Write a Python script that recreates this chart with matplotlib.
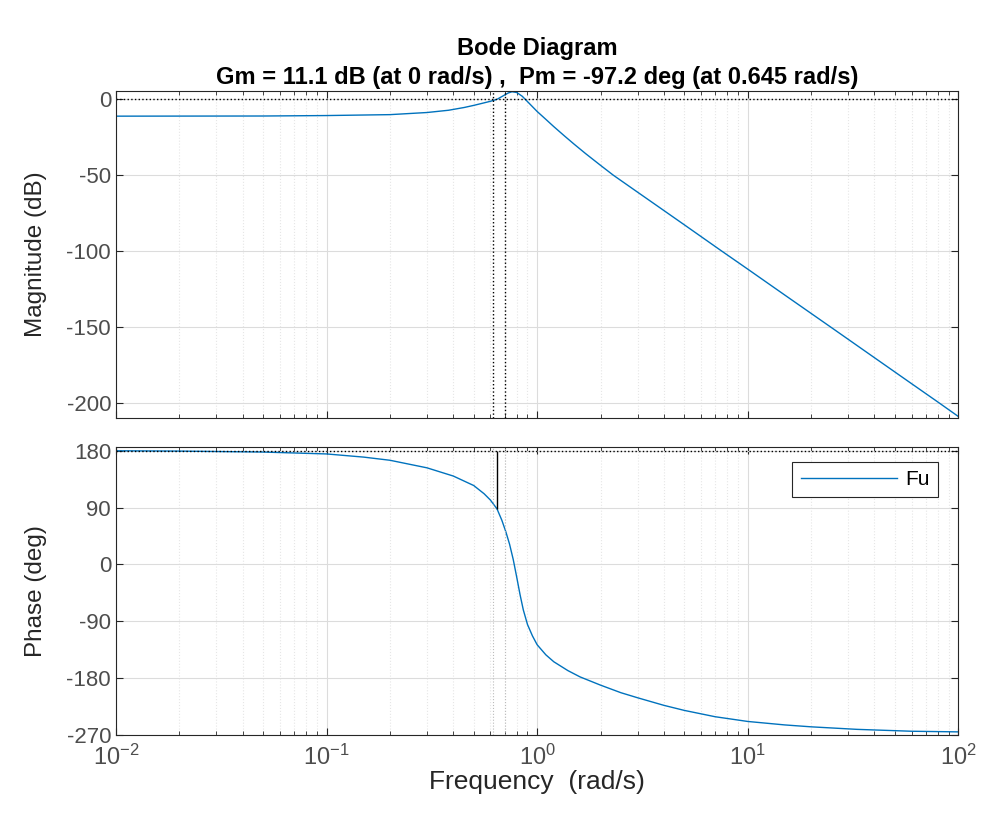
import matplotlib

matplotlib.use("Agg")

import matplotlib.pyplot as plt
from matplotlib.ticker import LogLocator, NullFormatter

plt.rcParams["font.family"] = ["Liberation Sans", "DejaVu Sans"]
plt.rcParams["mathtext.default"] = "regular"
plt.rcParams["axes.unicode_minus"] = False

# magnitude curve (rad/s, dB)
MAG_FREQ = [0.01, 0.05, 0.1, 0.2, 0.3, 0.38, 0.45, 0.5, 0.55, 0.6, 0.645,
            0.7, 0.73, 0.76, 0.8, 0.85, 0.9, 1.0, 1.1, 1.2, 1.35, 1.5, 1.7,
            2.0, 2.3, 3.0, 4.0, 5.0, 7.4, 10, 15, 25.5, 40, 60, 80, 100]
MAG_DB = [-11.1, -11.0, -10.7, -10.1, -8.7, -7.2, -5.4, -4.0, -2.6, -1.3, 0.0,
          2.8, 4.2, 5.0, 4.5, 2.0, -1.5, -8.0, -13.2, -18.0, -24.2, -29.6,
          -35.8, -43.5, -50.0, -61.2, -73.3, -82.7, -99.3, -111.9, -129.0,
          -151.3, -170.3, -187.4, -199.5, -209.0]

# phase curve (rad/s, deg)
PH_FREQ = [0.01, 0.02, 0.05, 0.1, 0.15, 0.2, 0.3, 0.4, 0.5, 0.56, 0.6, 0.645,
           0.68, 0.71, 0.74, 0.77, 0.8, 0.83, 0.86, 0.9, 0.95, 1.0, 1.1, 1.2,
           1.4, 1.6, 2.0, 2.5, 3.0, 4.0, 5.0, 7.0, 10, 15, 20, 33, 60, 100]
PH_DEG = [180, 179.5, 178, 175, 170, 165, 153, 140, 125, 112, 102, 88,
          70, 52, 32, 8, -20, -48, -72, -95, -113, -127, -143, -154,
          -168, -178, -191, -203, -211, -223, -231, -241, -248.5, -254, -257,
          -261, -264, -265]

TITLE = "Bode Diagram\nGm = 11.1 dB (at 0 rad/s) ,  Pm = -97.2 deg (at 0.645 rad/s)"
MAG_TICKS = [0, -50, -100, -150, -200]
PH_TICKS = [180, 90, 0, -90, -180, -270]
PM_FREQ = 0.645
PM_PHASE = 88
MARGIN_LINES = [0.62, 0.70]
LEGEND = "Fu"

LINE_COLOR = "#0072BD"
AX_COLOR = "#262626"


def style_axes(ax):
    ax.set_xscale("log")
    ax.set_xlim(1e-2, 1e2)
    ax.xaxis.set_major_locator(LogLocator(base=10))
    ax.xaxis.set_minor_locator(LogLocator(base=10, subs=range(2, 10)))
    ax.xaxis.set_minor_formatter(NullFormatter())
    ax.grid(True, which="major", color="#dcdcdc", linewidth=0.8)
    ax.grid(True, which="minor", axis="x", color="#e6e6e6", linestyle=":", linewidth=0.8)
    ax.set_axisbelow(True)
    ax.tick_params(which="both", direction="in", top=True, right=True,
                   colors=AX_COLOR, labelsize=16)
    ax.tick_params(which="major", length=5)
    ax.tick_params(which="minor", length=3)
    for tl in ax.get_yticklabels() + ax.get_xticklabels():
        tl.set_color("#4d4d4d")
    for sp in ax.spines.values():
        sp.set_color(AX_COLOR)
        sp.set_linewidth(0.8)


def main() -> None:
    fig = plt.figure(figsize=(9.91, 8.27), dpi=100)
    ax1 = fig.add_axes([0.117, 0.4946, 0.850, 0.3954])
    ax2 = fig.add_axes([0.117, 0.1112, 0.850, 0.3483], sharex=ax1)

    # magnitude
    ax1.plot(MAG_FREQ, MAG_DB, color=LINE_COLOR, linewidth=1.0)
    ax1.axhline(0, color="black", linestyle=":", linewidth=1.0)
    for f in MARGIN_LINES:
        ax1.axvline(f, color="black", linestyle=":", linewidth=1.0)
    ax1.set_ylim(-210, 5.5)
    ax1.set_yticks(MAG_TICKS)
    ax1.set_ylabel("Magnitude (dB)", fontsize=17.5, color=AX_COLOR, labelpad=14)
    style_axes(ax1)
    ax1.tick_params(labelbottom=False)
    ax1.set_title(TITLE, fontsize=17, fontweight="bold", color="black", pad=5,
                  linespacing=1.35)

    # phase
    ax2.plot(PH_FREQ, PH_DEG, color=LINE_COLOR, linewidth=1.0, label=LEGEND)
    ax2.axhline(180, color="black", linestyle=":", linewidth=1.0)
    for f in MARGIN_LINES:
        ax2.axvline(f, color="#bbbbbb", linestyle=":", linewidth=0.8)
    ax2.vlines(PM_FREQ, PM_PHASE, 180, color="black", linewidth=1.0)
    ax2.set_ylim(-270, 186)
    ax2.set_yticks(PH_TICKS)
    ax2.set_ylabel("Phase (deg)", fontsize=17.5, color=AX_COLOR, labelpad=14)
    ax2.set_xlabel("Frequency  (rad/s)", fontsize=19, color=AX_COLOR, labelpad=0)
    style_axes(ax2)
    ax2.tick_params(axis="x", labelsize=17, pad=7)
    leg = ax2.legend(loc="upper right", bbox_to_anchor=(0.988, 0.985), fontsize=15,
                     fancybox=False, framealpha=1, handlelength=4.6, borderpad=0.4,
                     handletextpad=0.4)
    leg.get_frame().set_edgecolor(AX_COLOR)
    leg.get_frame().set_linewidth(0.8)

    fig.savefig("out.png", dpi=100)
    plt.close(fig)


if __name__ == "__main__":
    main()
